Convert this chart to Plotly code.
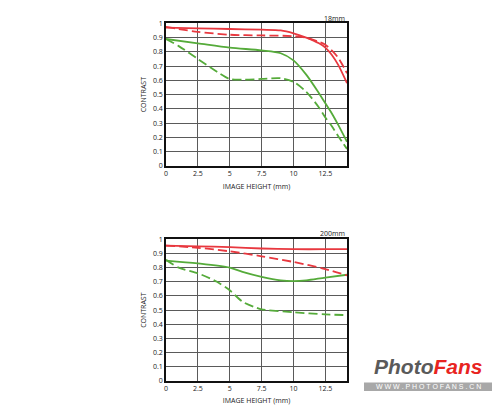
import plotly.graph_objects as go

# ---- data ----
x_ticks = [0, 2.5, 5, 7.5, 10, 12.5]
x_ticklabels = ["0", "2.5", "5", "7.5", "10", "12.5"]
y_ticks = [0, 0.1, 0.2, 0.3, 0.4, 0.5, 0.6, 0.7, 0.8, 0.9, 1.0]
y_ticklabels = ["0", "0.1", "0.2", "0.3", "0.4", "0.5", "0.6", "0.7", "0.8", "0.9", "1"]

# 18mm
w18_red_solid_x = [0, 2.5, 5, 7.5, 9, 10, 11, 12, 12.5, 13, 13.5, 14.2]
w18_red_solid_y = [0.97, 0.965, 0.96, 0.955, 0.95, 0.93, 0.9, 0.86, 0.83, 0.78, 0.71, 0.58]
w18_red_dash_x = [0, 1, 2.5, 5, 7.5, 10, 11, 12, 12.5, 13, 13.5, 14.2]
w18_red_dash_y = [0.975, 0.96, 0.94, 0.92, 0.915, 0.91, 0.9, 0.87, 0.85, 0.81, 0.76, 0.65]
w18_green_solid_x = [0, 2.5, 5, 7.5, 9, 10, 11, 12, 12.5, 13, 13.5, 14.2]
w18_green_solid_y = [0.89, 0.86, 0.83, 0.81, 0.79, 0.74, 0.64, 0.51, 0.44, 0.37, 0.29, 0.17]
w18_green_dash_x = [0, 1, 2.5, 4, 5, 6, 7.5, 9, 10, 11, 12, 12.5, 13, 13.5, 14.2]
w18_green_dash_y = [0.89, 0.84, 0.75, 0.66, 0.61, 0.605, 0.61, 0.615, 0.59, 0.52, 0.41, 0.34, 0.28, 0.21, 0.12]

# 200mm
t200_red_solid_x = [0, 2.5, 5, 7.5, 10, 12.5, 14.2]
t200_red_solid_y = [0.955, 0.95, 0.945, 0.935, 0.93, 0.93, 0.93]
t200_red_dash_x = [0, 2.5, 5, 7.5, 10, 12.5, 14.2]
t200_red_dash_y = [0.955, 0.94, 0.915, 0.88, 0.84, 0.79, 0.745]
t200_green_solid_x = [0, 2.5, 5, 6, 7.5, 9, 10, 11, 12.5, 14.2]
t200_green_solid_y = [0.85, 0.83, 0.80, 0.77, 0.735, 0.71, 0.705, 0.71, 0.73, 0.75]
t200_green_dash_x = [0, 1, 2.5, 4, 5, 6, 7, 7.5, 8, 10, 12.5, 14.2]
t200_green_dash_y = [0.855, 0.8, 0.76, 0.70, 0.64, 0.56, 0.52, 0.505, 0.5, 0.485, 0.47, 0.465]

RED = "#e8383f"
GREEN = "#55ab3a"
DASH = "9px,4px"

# page has an 8px body margin; figure is sized to fit the window
OFF = 8
W, H = 500 - OFF, 405 - OFF

def px(x):
    return (x - OFF) / W

def py(y):
    return 1 - (y - OFF) / H

fig = go.Figure()

def add(x, y, color, dash, xa, ya):
    fig.add_trace(go.Scatter(x=x, y=y, mode="lines", xaxis=xa, yaxis=ya,
                             line=dict(color=color, width=1.8, dash=dash, shape="spline", smoothing=0.8),
                             showlegend=False, hoverinfo="skip"))

add(w18_green_dash_x, w18_green_dash_y, GREEN, DASH, "x", "y")
add(w18_green_solid_x, w18_green_solid_y, GREEN, "solid", "x", "y")
add(w18_red_dash_x, w18_red_dash_y, RED, DASH, "x", "y")
add(w18_red_solid_x, w18_red_solid_y, RED, "solid", "x", "y")

add(t200_green_dash_x, t200_green_dash_y, GREEN, DASH, "x2", "y2")
add(t200_green_solid_x, t200_green_solid_y, GREEN, "solid", "x2", "y2")
add(t200_red_dash_x, t200_red_dash_y, RED, DASH, "x2", "y2")
add(t200_red_solid_x, t200_red_solid_y, RED, "solid", "x2", "y2")

tickfont = dict(family="Open Sans", size=7, color="#1a1a1a")
titlefont = dict(family="Open Sans", size=7, color="#1a1a1a")

xax = dict(range=[0, 14.2], tickvals=x_ticks, ticktext=x_ticklabels, showgrid=True,
           gridcolor="#5a5a5a", gridwidth=1, showline=True, linecolor="#111111", linewidth=1.5,
           mirror=True, zeroline=False, ticks="", tickfont=tickfont, automargin=False,
           title=dict(text="IMAGE HEIGHT (mm)", font=titlefont, standoff=7))
yax = dict(range=[0, 1], tickvals=y_ticks, ticktext=y_ticklabels, showgrid=True,
           gridcolor="#5a5a5a", gridwidth=1, showline=True, linecolor="#111111", linewidth=1.5,
           mirror=True, zeroline=False, ticks="", tickfont=tickfont, automargin=False,
           title=dict(text="CONTRAST", font=titlefont, standoff=6))

xd = [px(166), px(347)]
fig.update_layout(
    width=W, height=H, margin=dict(l=0, r=0, t=0, b=0, autoexpand=False),
    paper_bgcolor="white", plot_bgcolor="white",
    xaxis=dict(xax, domain=xd, anchor="y"),
    yaxis=dict(yax, domain=[py(166), py(23.3)], anchor="x"),
    xaxis2=dict(xax, domain=xd, anchor="y2"),
    yaxis2=dict(yax, domain=[py(381), py(239.3)], anchor="x2"),
)

fig.add_annotation(text="18mm", x=px(347), y=py(18), xref="paper", yref="paper",
                   xanchor="right", yanchor="middle", showarrow=False,
                   font=dict(family="Open Sans", size=7, color="#1a1a1a"))
fig.add_annotation(text="200mm", x=px(347), y=py(234), xref="paper", yref="paper",
                   xanchor="right", yanchor="middle", showarrow=False,
                   font=dict(family="Open Sans", size=7, color="#1a1a1a"))

# watermark
fig.add_annotation(
    text="<b><i><span style='color:#5a5a5a'>Photo</span><span style='color:#e8241f'>Fans</span></i></b>",
    x=px(428), y=py(366), xref="paper", yref="paper", xanchor="center", yanchor="middle",
    showarrow=False, font=dict(family="Liberation Sans", size=21, color="#5a5a5a"))
fig.add_shape(type="rect", xref="paper", yref="paper", x0=px(364), x1=px(492),
              y0=py(391), y1=py(382.5), fillcolor="#a8a8a8", line=dict(width=0))
fig.add_annotation(text="W W W . P H O T O F A N S . C N", x=px(428), y=py(386.8),
                   xref="paper", yref="paper", xanchor="center", yanchor="middle",
                   showarrow=False, font=dict(family="Liberation Sans", size=7, color="white"))

fig.write_html("out.html")
